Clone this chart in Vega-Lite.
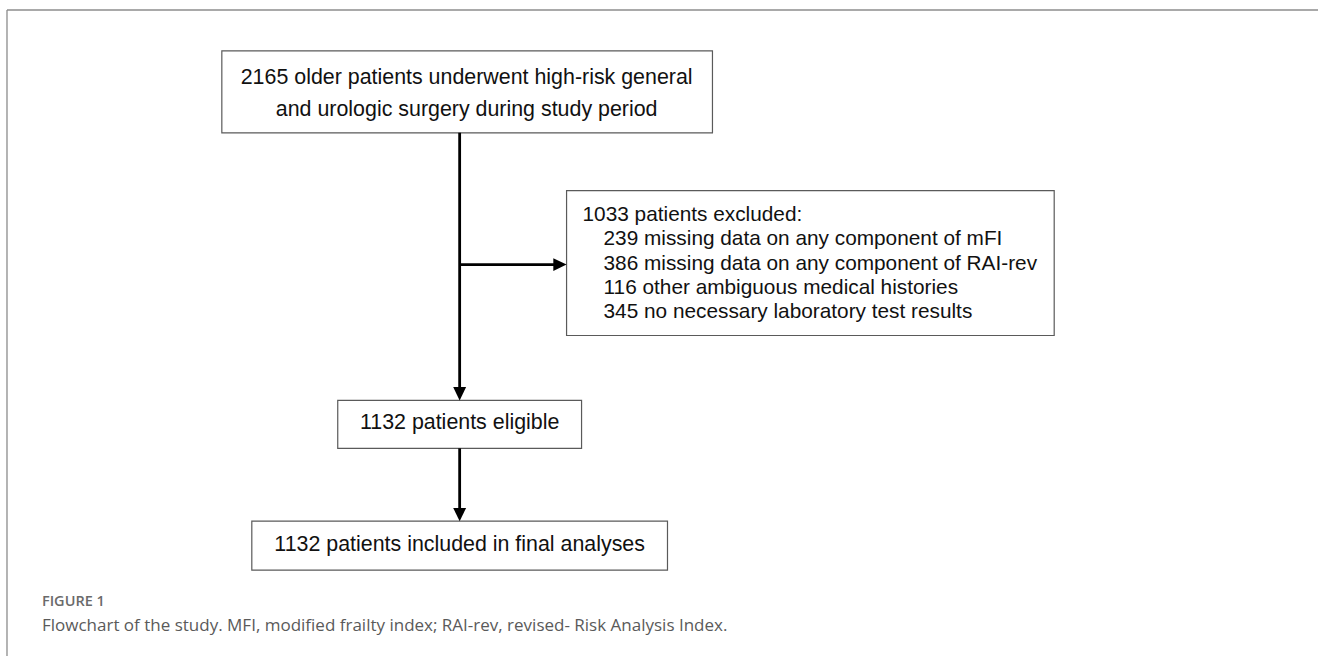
{
  "$schema": "https://vega.github.io/schema/vega-lite/v6.json",
  "width": 1319,
  "height": 657,
  "autosize": {"type": "fit", "contains": "padding"},
  "padding": 0,
  "background": "white",
  "config": {"view": {"stroke": null}},
  "datasets": {
    "boxes": [
      {"x": 222, "x2": 713, "y": 51, "y2": 133},
      {"x": 567, "x2": 1055, "y": 191, "y2": 336},
      {"x": 338, "x2": 582, "y": 401, "y2": 449},
      {"x": 252, "x2": 668, "y": 522, "y2": 571}
    ],
    "lines": [
      {"x": 460, "y": 133, "x2": 460, "y2": 392},
      {"x": 460, "y": 265, "x2": 557, "y2": 265},
      {"x": 460, "y": 449, "x2": 460, "y2": 513}
    ],
    "arrows": [
      {"x": 460, "y": 401, "dir": "down"},
      {"x": 567, "y": 265, "dir": "right"},
      {"x": 460, "y": 522, "dir": "down"}
    ],
    "centered": [
      {"x": 467, "y": 78, "text": "2165 older patients underwent high-risk general"},
      {"x": 467, "y": 110, "text": "and urologic surgery during study period"},
      {"x": 460, "y": 424, "text": "1132 patients eligible"},
      {"x": 460, "y": 546, "text": "1132 patients included in final analyses"}
    ],
    "lefts": [
      {"x": 583, "y": 215, "text": "1033 patients excluded:"},
      {"x": 604, "y": 239.5, "text": "239 missing data on any component of mFI"},
      {"x": 604, "y": 264, "text": "386 missing data on any component of RAI-rev"},
      {"x": 604, "y": 288, "text": "116 other ambiguous medical histories"},
      {"x": 604, "y": 312, "text": "345 no necessary laboratory test results"}
    ],
    "border": [
      {"x": 7, "y": 10, "x2": 1319, "y2": 10},
      {"x": 7, "y": 10, "x2": 7, "y2": 657}
    ],
    "figlabel": [{"x": 42, "y": 603, "text": "FIGURE 1"}],
    "caption": [{"x": 42, "y": 627, "text": "Flowchart of the study. MFI, modified frailty index; RAI-rev, revised- Risk Analysis Index."}]
  },
  "layer": [
    {
      "data": {"name": "border"},
      "mark": {"type": "rule", "stroke": "#8c8c8c", "strokeWidth": 1.3},
      "encoding": {
        "x": {"field": "x", "type": "quantitative", "scale": {"domain": [0, 1319], "nice": false, "zero": false}, "axis": null},
        "y": {"field": "y", "type": "quantitative", "scale": {"domain": [0, 657], "nice": false, "zero": false, "reverse": true}, "axis": null},
        "x2": {"field": "x2"},
        "y2": {"field": "y2"}
      }
    },
    {
      "data": {"name": "boxes"},
      "mark": {"type": "rect", "fill": "white", "stroke": "#5a5a5a", "strokeWidth": 1.2},
      "encoding": {
        "x": {"field": "x", "type": "quantitative"},
        "x2": {"field": "x2"},
        "y": {"field": "y", "type": "quantitative"},
        "y2": {"field": "y2"}
      }
    },
    {
      "data": {"name": "lines"},
      "mark": {"type": "rule", "stroke": "black", "strokeWidth": 2.8},
      "encoding": {
        "x": {"field": "x", "type": "quantitative"},
        "x2": {"field": "x2"},
        "y": {"field": "y", "type": "quantitative"},
        "y2": {"field": "y2"}
      }
    },
    {
      "data": {"name": "arrows"},
      "mark": {"type": "point", "filled": true, "fill": "black", "stroke": null, "opacity": 1, "size": 44},
      "encoding": {
        "x": {"field": "x", "type": "quantitative"},
        "y": {"field": "y", "type": "quantitative"},
        "shape": {
          "field": "dir",
          "type": "nominal",
          "scale": {"domain": ["down", "right"], "range": ["M-1.95,-4L1.95,-4L0,0Z", "M-4,-1.95L-4,1.95L0,0Z"]},
          "legend": null
        }
      }
    },
    {
      "data": {"name": "centered"},
      "mark": {"type": "text", "font": "Liberation Sans", "fontSize": 21.4, "align": "center", "baseline": "middle", "color": "#111111"},
      "encoding": {
        "x": {"field": "x", "type": "quantitative"},
        "y": {"field": "y", "type": "quantitative"},
        "text": {"field": "text"}
      }
    },
    {
      "data": {"name": "lefts"},
      "mark": {"type": "text", "font": "Liberation Sans", "fontSize": 20.8, "align": "left", "baseline": "middle", "color": "#111111"},
      "encoding": {
        "x": {"field": "x", "type": "quantitative"},
        "y": {"field": "y", "type": "quantitative"},
        "text": {"field": "text"}
      }
    },
    {
      "data": {"name": "figlabel"},
      "mark": {"type": "text", "font": "Open Sans", "fontSize": 14.5, "fontWeight": 600, "align": "left", "baseline": "middle", "color": "#6a6a6a"},
      "encoding": {
        "x": {"field": "x", "type": "quantitative"},
        "y": {"field": "y", "type": "quantitative"},
        "text": {"field": "text"}
      }
    },
    {
      "data": {"name": "caption"},
      "mark": {"type": "text", "font": "Open Sans", "fontSize": 17, "align": "left", "baseline": "middle", "color": "#5a5a5a"},
      "encoding": {
        "x": {"field": "x", "type": "quantitative"},
        "y": {"field": "y", "type": "quantitative"},
        "text": {"field": "text"}
      }
    }
  ]
}
